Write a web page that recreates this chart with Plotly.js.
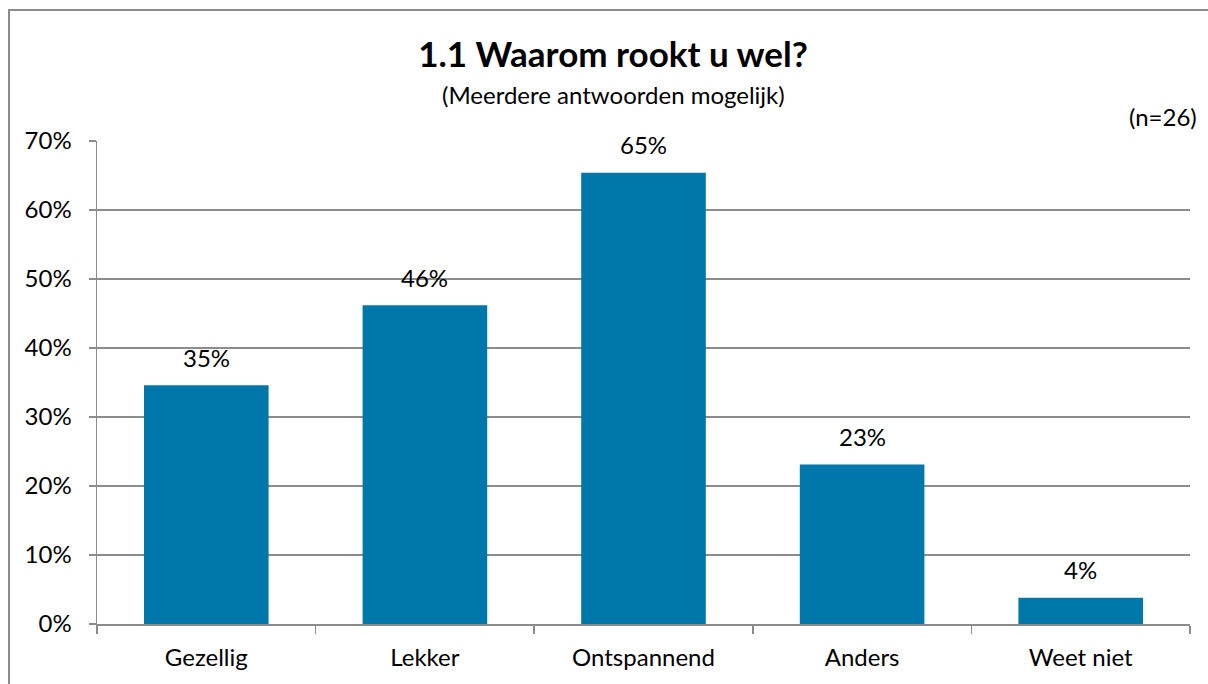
<!DOCTYPE html>
<html><head><meta charset="utf-8">
<script src="https://cdn.plot.ly/plotly-3.0.1.min.js"></script>
<style>html,body{margin:0;padding:0;background:#fff;}#chart{width:1208px;height:684px;}</style>
</head><body><div id="chart"></div>
<script>
const categories = ["Gezellig", "Lekker", "Ontspannend", "Anders", "Weet niet"];
const values = [0.346, 0.462, 0.654, 0.231, 0.038];
const labels = ["35%", "46%", "65%", "23%", "4%"];
const yTicks = [0, 0.1, 0.2, 0.3, 0.4, 0.5, 0.6, 0.7];
const yTickLabels = ["0%", "10%", "20%", "30%", "40%", "50%", "60%", "70%"];

const font = "Lato, 'Open Sans', 'Liberation Sans', sans-serif";
const grid = "#8c8c8c";
const fs = 24;

const trace = {
  type: "bar", x: categories, y: values,
  marker: {color: "#0077ab"},
  hoverinfo: "skip"
};

const labelAnns = categories.map((c, i) => ({
  x: c, y: values[i], xref: "x", yref: "y", text: labels[i],
  showarrow: false, yanchor: "middle", yshift: 28,
  font: {family: font, size: fs, color: "#000"}
}));

const layout = {
  width: 1208, height: 684,
  margin: {l: 97, r: 18, t: 141, b: 60},
  paper_bgcolor: "#fff", plot_bgcolor: "#fff",
  bargap: 0.43,
  showlegend: false,
  font: {family: font, size: fs, color: "#000"},
  title: {
    text: "<b>1.1 Waarom rookt u wel?</b>",
    font: {family: font, size: 35, color: "#000"},
    xref: "container", yref: "container",
    x: 0.5075, xanchor: "center", y: 1 - 55/684, yanchor: "middle"
  },
  xaxis: {
    type: "category", tickson: "boundaries", ticks: "outside", ticklen: 8,
    tickcolor: grid, tickwidth: 1.5,
    showline: true, linecolor: grid, linewidth: 1.5,
    showgrid: false, tickfont: {family: font, size: fs, color: "#000"},
    ticklabelstandoff: 12,
    fixedrange: true
  },
  yaxis: {
    range: [0, 0.7], tickvals: yTicks, ticktext: yTickLabels,
    ticks: "outside", ticklen: 7, tickcolor: grid, tickwidth: 1.5,
    showline: true, linecolor: grid, linewidth: 1.5,
    showgrid: true, gridcolor: grid, gridwidth: 1.5,
    zeroline: false,
    tickfont: {family: font, size: fs, color: "#000"},
    ticklabelstandoff: 12,
    fixedrange: true
  },
  annotations: labelAnns.concat([
    {xref: "paper", yref: "paper", x: (613-97)/1093, y: (624-95)/483,
     text: "(Meerdere antwoorden mogelijk)", showarrow: false,
     xanchor: "center", yanchor: "middle",
     font: {family: font, size: fs, color: "#000"}},
    {xref: "paper", yref: "paper", x: (1199-97)/1093, y: (624-116)/483,
     text: "(n=26)", showarrow: false, xanchor: "right", yanchor: "middle",
     font: {family: font, size: fs, color: "#000"}}
  ]),
  shapes: [{
    type: "rect", xref: "paper", yref: "paper",
    x0: (9-97)/1093, x1: (1230-97)/1093, y0: (624-700)/483, y1: (624-10)/483,
    line: {color: "#8c8c8c", width: 2}, fillcolor: "rgba(0,0,0,0)", layer: "below"
  }]
};

Plotly.newPlot("chart", [trace], layout, {displayModeBar: false, staticPlot: true});
</script></body></html>
